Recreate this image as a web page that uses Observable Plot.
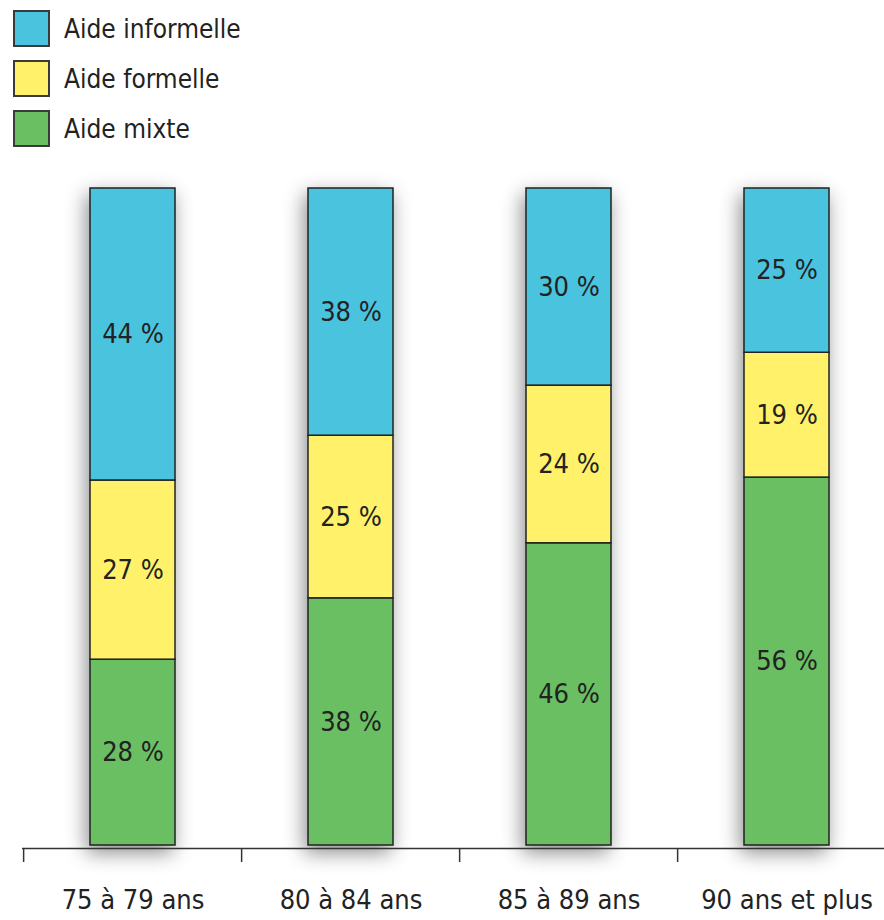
<!DOCTYPE html>
<html><head><meta charset="utf-8">
<script src="https://cdn.jsdelivr.net/npm/d3@7"></script>
<script src="https://cdn.jsdelivr.net/npm/@observablehq/plot@0.6"></script>
<style>
body{margin:0;background:#fff;font-family:"DejaVu Sans Condensed",sans-serif;color:#222;}
#legend{position:relative;height:165px;}
.item{position:absolute;left:13px;display:flex;align-items:center;}
.sw{width:33px;height:33px;border:2px solid #3a3a3a;box-sizing:content-box;}
.lab{margin-left:14px;font-size:26px;line-height:36px;}
svg{display:block;overflow:visible;}
</style></head>
<body>
<div id="legend"></div>
<div id="chart"></div>
<script>
const categories = ["75 à 79 ans", "80 à 84 ans", "85 à 89 ans", "90 ans et plus"];
const series = ["Aide mixte", "Aide formelle", "Aide informelle"];
const legendOrder = ["Aide informelle", "Aide formelle", "Aide mixte"];
const colors = ["#69bf62", "#fff26a", "#4ac3de"];
const aideMixte = [28, 38, 46, 56];
const aideFormelle = [27, 25, 24, 19];
const aideInformelle = [44, 38, 30, 25];

const valuesBySeries = {"Aide mixte": aideMixte, "Aide formelle": aideFormelle, "Aide informelle": aideInformelle};
const data = [];
series.forEach(s => categories.forEach((c, i) => data.push({cat: c, series: s, value: valuesBySeries[s][i]})));

// legend
const legend = document.getElementById("legend");
legendOrder.forEach((s, i) => {
  const d = document.createElement("div");
  d.className = "item";
  d.style.top = (10 + i * 50) + "px";
  d.innerHTML = `<div class="sw" style="background:${colors[series.indexOf(s)]}"></div><div class="lab">${s}</div>`;
  legend.appendChild(d);
});

const W = 884, H = 755, ML = 22, MR = -13;
const step = (W - ML - MR) / categories.length;
const stackOpts = {x: "cat", y: "value", z: "series", offset: "normalize", order: series};

const plot = Plot.plot({
  width: W, height: H,
  marginLeft: ML, marginRight: MR, marginTop: 23, marginBottom: 75,
  style: {fontFamily: '"DejaVu Sans Condensed",sans-serif', color: "#222", overflow: "visible"},
  x: {domain: categories, paddingInner: 0.61, paddingOuter: 0.305, align: 0.5, label: null},
  y: {domain: [0, 1], axis: null},
  color: {domain: series, range: colors},
  marks: [
    Plot.barY(data, Plot.stackY({...stackOpts, fill: "series", stroke: "#222", strokeWidth: 1.5, inset: 0, className: "bars"})),
    Plot.text(data, Plot.stackY({...stackOpts, text: d => d.value + " %", fontSize: 27, fill: "#222"})),
    Plot.ruleY([0], {dy: 3, stroke: "#333", strokeWidth: 1.5}),
    Plot.axisX({tickSize: 14, tickFormat: () => "", dx: -step / 2, dy: 3, stroke: "#333", strokeWidth: 1.5, tickPadding: 0, label: null}),
    Plot.axisX({tickSize: 0, tickPadding: 44, fontSize: 27, fill: "#222", label: null})
  ]
});
document.getElementById("chart").appendChild(plot);
d3.select(plot).selectAll("g.bars").style("filter", "drop-shadow(-3px 7px 10px rgba(0,0,0,0.45))");
</script>
</body></html>
